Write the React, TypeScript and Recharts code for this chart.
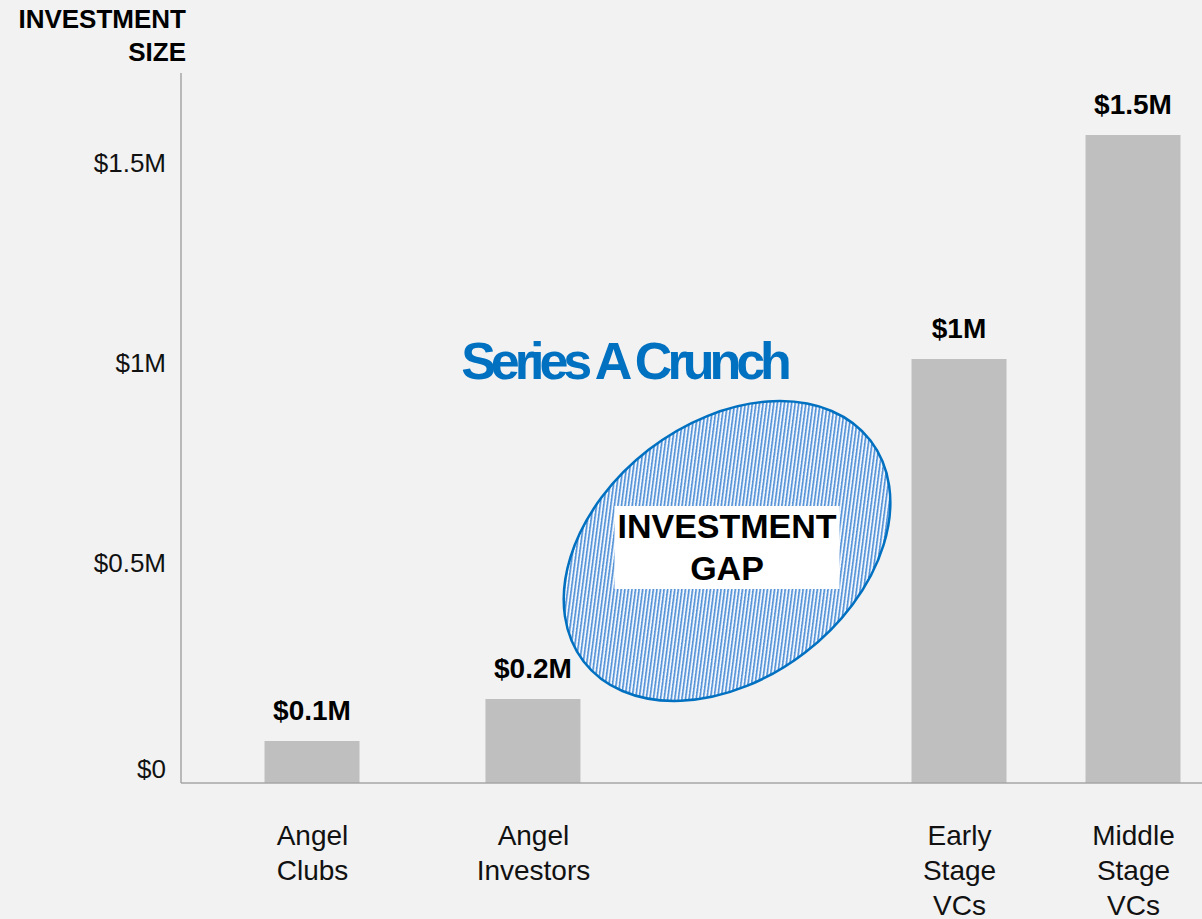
import React from "react";
import {
  BarChart,
  Bar,
  XAxis,
  YAxis,
  LabelList,
  ReferenceDot
} from "recharts";

// funding stages
const stages = ["Angel Clubs", "Angel Investors", "Early Stage VCs", "Middle Stage VCs"];
const stageLines = [["Angel", "Clubs"], ["Angel", "Investors"], ["Early", "Stage", "VCs"], ["Middle", "Stage", "VCs"]];
const sizes = [0.105, 0.21, 1.06, 1.62]; // $M, bar heights as drawn
const sizeLabels = ["$0.1M", "$0.2M", "$1M", "$1.5M"];
const yTicks = [0, 0.5, 1, 1.5];
const yTickLabels = ["$0", "$0.5M", "$1M", "$1.5M"];

// horizontal placement of each stage on a 0-100 axis (stages are not evenly spaced)
const stageX = [12.88, 34.52, 76.25, 93.29];

const FONT = "'Liberation Sans', Arial, sans-serif";
const BLUE = "#0070c0";
const HATCH = "#4f8fd6";
const HATCH_SOFT = "#a9c8ec";

const data = stages.map((name, i) => ({
  name,
  x: stageX[i],
  size: sizes[i],
  label: sizeLabels[i]
}));

const YTick = (props: any) => {
  const { x, y, payload } = props;
  const i = yTicks.indexOf(payload.value);
  const dy = payload.value === 0 ? -5 : -11;
  return (
    <text x={x} y={y + dy} textAnchor="end" fontSize={26} fill="#111" fontFamily={FONT}>
      {yTickLabels[i]}
    </text>
  );
};

const XTick = (props: any) => {
  const { x, y, index } = props;
  const lines = stageLines[index] || [];
  return (
    <text x={x} y={y} textAnchor="middle" fontSize={28} fill="#111" fontFamily={FONT}>
      {lines.map((l, k) => (
        <tspan key={k} x={x} y={y + 62 + k * 35}>
          {l}
        </tspan>
      ))}
    </text>
  );
};

// one row of the 5px diagonal hatch, shifted one pixel left per row
const hatchRow = (r: number) =>
  [0, 1, 2].map((k) => {
    const px = (5 - r + k) % 5;
    return (
      <rect
        key={`${r}-${k}`}
        x={px}
        y={r}
        width={1}
        height={1}
        fill={k === 2 ? HATCH_SOFT : HATCH}
      />
    );
  });

const GapEllipse = (props: any) => {
  const { cx, cy } = props;
  if (cx == null || cy == null) return null;
  return (
    <g>
      <defs>
        <pattern id="gapHatch" patternUnits="userSpaceOnUse" width={5} height={5}>
          <g shapeRendering="crispEdges">
            <rect width={5} height={5} fill="#ffffff" />
            {[0, 1, 2, 3, 4].map(hatchRow)}
          </g>
        </pattern>
      </defs>
      <ellipse
        cx={cx}
        cy={cy}
        rx={181}
        ry={128}
        transform={`rotate(-37.6 ${cx} ${cy})`}
        fill="url(#gapHatch)"
        stroke={BLUE}
        strokeWidth={2.5}
      />
      <rect x={cx - 112.5} y={cy - 45} width={225} height={83} fill="#ffffff" />
      <text textAnchor="middle" fontSize={34} fontWeight="bold" fill="#000" fontFamily={FONT}>
        <tspan x={cx} y={cy - 13}>INVESTMENT</tspan>
        <tspan x={cx} y={cy + 29}>GAP</tspan>
      </text>
    </g>
  );
};

const CrunchTitle = (props: any) => {
  const { cx, cy } = props;
  if (cx == null || cy == null) return null;
  return (
    <text
      x={cx}
      y={cy}
      textAnchor="middle"
      fontSize={52}
      fontWeight="bold"
      letterSpacing={-5}
      fill={BLUE}
      fontFamily={FONT}
    >
      Series A Crunch
    </text>
  );
};

export default function App() {
  return (
    <div
      style={{
        position: "absolute",
        left: 0,
        top: 0,
        width: 1202,
        height: 919,
        background: "#f2f2f2",
        fontFamily: FONT
      }}
    >
      <div
        style={{
          position: "absolute",
          left: 0,
          top: 3,
          width: 186,
          textAlign: "right",
          fontSize: 26,
          fontWeight: "bold",
          lineHeight: "33px",
          color: "#000"
        }}
      >
        INVESTMENT
        <br />
        SIZE
      </div>
      <BarChart
        width={1202}
        height={919}
        data={data}
        margin={{ top: 73, right: 0, bottom: 0, left: 0 }}
        style={{ position: "absolute", left: 0, top: 0 }}
      >
        <XAxis
          dataKey="x"
          type="number"
          domain={[0, 100]}
          ticks={stageX}
          interval={0}
          height={136}
          tickSize={0}
          tickMargin={0}
          tick={<XTick />}
          stroke="#a6a6a6"
          strokeWidth={1.5}
        />
        <YAxis
          type="number"
          domain={[0, 1.775]}
          ticks={yTicks}
          interval={0}
          width={181}
          tickSize={0}
          tickMargin={15}
          tick={<YTick />}
          stroke="#a6a6a6"
          strokeWidth={1.5}
          allowDataOverflow
        />
        <Bar dataKey="size" fill="#bfbfbf" barSize={95} isAnimationActive={false}>
          <LabelList
            dataKey="label"
            position="top"
            offset={21}
            fontSize={28}
            fontWeight="bold"
            fill="#000"
            fontFamily={FONT}
          />
        </Bar>
        <ReferenceDot x={53.48} y={0.58} shape={<GapEllipse />} ifOverflow="visible" />
        <ReferenceDot x={43.39} y={1.01} shape={<CrunchTitle />} ifOverflow="visible" />
      </BarChart>
    </div>
  );
}
